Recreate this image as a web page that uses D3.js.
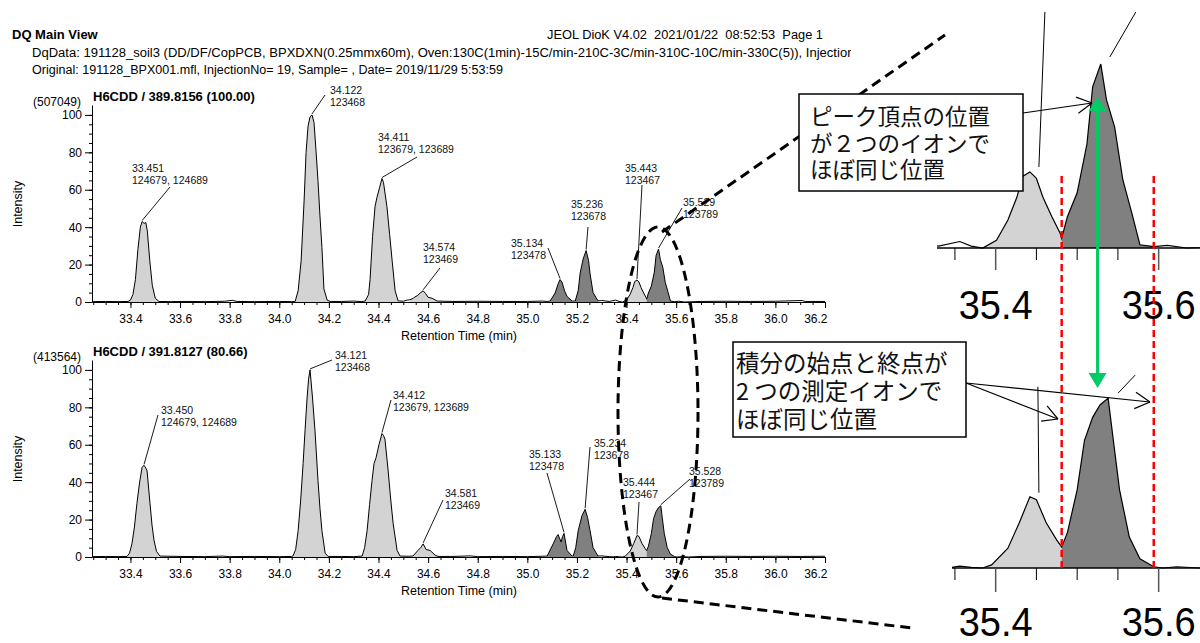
<!DOCTYPE html>
<html>
<head>
<meta charset="utf-8">
<script src="https://cdn.jsdelivr.net/npm/d3@7.9.0/dist/d3.min.js"></script>
<style>
  body { margin: 0; background: #fff; }
  svg { display: block; font-family: "Liberation Sans", Arial, sans-serif; }
  .jp { font-family: "Noto Sans CJK JP", sans-serif; }
</style>
</head>
<body>
<svg id="chart" width="1200" height="643"></svg>
<script>
// ---------------- data ----------------
// chromatogram traces: [retention time (min), relative intensity (%)]
const topTrace = [
  [33.245,0.2],[33.30,0.3],[33.35,0.2],[33.39,0.3],
  [33.40,1],[33.41,4],[33.42,12],[33.43,28],[33.44,40],[33.447,43],[33.455,42],[33.462,42.5],[33.468,38],[33.478,22],[33.488,9],[33.50,2],[33.515,0.3],
  [33.56,0.2],[33.62,0.3],[33.70,0.2],[33.78,0.4],[33.81,0.9],[33.83,0.3],[33.90,0.2],[34.00,0.3],[34.05,0.2],
  [34.064,0.3],[34.076,6],[34.088,22],[34.100,54],[34.108,80],[34.116,94],[34.124,99],[34.132,100],[34.140,96],[34.148,81],[34.156,65],[34.164,46],[34.172,29],[34.180,7],[34.193,1],[34.205,0.3],
  [34.25,0.3],[34.30,0.5],[34.33,0.2],
  [34.346,0.5],[34.36,4],[34.366,12],[34.376,35],[34.386,51],[34.394,56],[34.404,61],[34.414,66],[34.420,64],[34.434,51],[34.445,36],[34.455,22],[34.467,6],[34.479,0.6],
  [34.50,0.4],[34.515,1],
  [34.527,1.2],[34.54,2],[34.547,2.7],[34.558,3.5],[34.568,4.8],[34.580,6],[34.590,4.5],[34.600,2.5],[34.616,2],[34.636,0.5],
  [34.70,0.3],[34.80,0.4],[34.90,0.3],[35.00,0.3],[35.06,0.5],[35.08,0.3],
  [35.092,0.5],[35.112,4.8],[35.125,10],[35.132,12],[35.140,10.5],[35.150,6],[35.160,3],[35.180,0.5],
  [35.193,0.5],[35.205,6],[35.213,15.5],[35.225,23],[35.237,27.5],[35.247,22],[35.253,15],[35.265,5],[35.285,0.6],
  [35.30,0.8],[35.33,0.3],[35.356,1],[35.37,0.3],
  [35.384,0],[35.401,1.2],[35.415,4.3],[35.426,7.8],[35.433,11],[35.442,11.7],[35.450,10.7],[35.458,7.8],[35.469,4.8],[35.479,2.3],[35.481,1.5],
  [35.488,4.8],[35.500,8.5],[35.512,16],[35.519,24.8],[35.529,28.3],[35.536,22.8],[35.546,18.6],[35.556,10.5],[35.567,5.4],[35.577,0.5],[35.594,0.2],
  [35.611,0.4],[35.634,0],[35.70,0.3],[35.80,0.4],[35.90,0.3],[36.00,0.4],[36.108,0.8],[36.12,0.3],[36.20,0.3]
];
const bottomTrace = [
  [33.245,0.2],[33.30,0.3],[33.35,0.2],[33.386,0.3],
  [33.396,2],[33.406,7],[33.416,16],[33.426,28.5],[33.437,40],[33.447,48],[33.455,49],[33.462,47.5],[33.467,46],[33.479,28.5],[33.487,17],[33.495,9],[33.505,3],[33.519,0.5],
  [33.60,0.3],[33.70,0.2],[33.77,0.5],[33.80,0.2],[33.90,0.3],[34.00,0.2],[34.05,0.3],
  [34.055,0.5],[34.066,4],[34.076,14],[34.086,30],[34.096,50],[34.104,68],[34.112,85],[34.118,95],[34.124,100],[34.134,85],[34.144,67.5],[34.156,41],[34.164,26],[34.172,14],[34.185,2],[34.197,0.3],
  [34.25,0.3],[34.30,0.2],
  [34.334,0.5],[34.344,5],[34.354,14],[34.364,28],[34.374,41],[34.382,50],[34.390,53],[34.402,60],[34.414,66],[34.420,65],[34.426,63],[34.439,46],[34.449,31],[34.459,18],[34.475,3.5],[34.487,0.5],
  [34.52,0.4],
  [34.539,0.5],[34.559,3.5],[34.570,5],[34.580,7],[34.592,4],[34.608,3.5],[34.628,1],[34.640,0.3],
  [34.70,0.3],[34.77,0.6],[34.80,0.2],[34.90,0.3],[35.00,0.2],[35.06,0.4],
  [35.080,0.5],[35.104,7],[35.118,11],[35.124,12],[35.136,8],[35.142,11],[35.148,12.6],[35.160,3.5],[35.180,0.5],
  [35.185,0.5],[35.195,5],[35.205,14],[35.220,22],[35.233,25.5],[35.243,21],[35.253,14],[35.265,5],[35.285,0.5],
  [35.30,0.6],[35.33,0.2],[35.346,0.1],[35.356,0.3],[35.37,0.1],
  [35.384,0],[35.395,0.5],[35.415,3.2],[35.429,7.3],[35.442,11.5],[35.450,11],[35.462,7.3],[35.475,4.5],[35.481,3.4],
  [35.488,5.7],[35.500,12.6],[35.509,20.6],[35.519,24.3],[35.528,26.3],[35.538,27.4],[35.544,21],[35.552,12.6],[35.564,5],[35.577,1.5],[35.594,0.2],
  [35.605,0],[35.622,0.2],[35.65,0],[35.70,0.3],[35.80,0.4],[35.90,0.3],[36.00,0.4],[36.10,0.3],[36.20,0.4]
];

// integration windows [start, end, shade]
const topWindows = [
  [33.390,33.515,'light'],[34.064,34.205,'light'],[34.346,34.479,'light'],[34.527,34.636,'light'],
  [35.092,35.180,'dark'],[35.193,35.285,'dark'],[35.384,35.481,'light'],[35.481,35.594,'dark']
];
const bottomWindows = [
  [33.386,33.519,'light'],[34.055,34.197,'light'],[34.334,34.487,'light'],[34.539,34.640,'light'],
  [35.080,35.180,'dark'],[35.185,35.285,'dark'],[35.384,35.481,'light'],[35.481,35.594,'dark']
];

const topRT = ['33.451','34.122','34.411','34.574','35.134','35.236','35.443','35.529'];
const bottomRT = ['33.450','34.121','34.412','34.581','35.133','35.234','35.444','35.528'];
const isomers = ['124679, 124689','123468','123679, 123689','123469','123478','123678','123467','123789'];

const xTickValues = [33.4,33.6,33.8,34.0,34.2,34.4,34.6,34.8,35.0,35.2,35.4,35.6,35.8,36.0,36.2];
const yTickValues = [0,20,40,60,80,100];
const panelMajor = [35.4, 35.6];
const panelMinor = [35.35, 35.45, 35.5, 35.55];

const topTitle = 'H6CDD / 389.8156 (100.00)';
const topBasePeak = '(507049)';
const bottomTitle = 'H6CDD / 391.8127 (80.66)';
const bottomBasePeak = '(413564)';

const headerTitle = 'DQ Main View';
const headerRight = 'JEOL DioK V4.02\u00a0\u00a02021/01/22\u00a0\u00a008:52:53\u00a0\u00a0Page 1';
const headerLine1 = 'DqData: 191128_soil3 (DD/DF/CopPCB, BPXDXN(0.25mmx60m), Oven:130C(1min)-15C/min-210C-3C/min-310C-10C/min-330C(5)), Injection:';
const headerLine2 = 'Original: 191128_BPX001.mfl, InjectionNo= 19, Sample= , Date= 2019/11/29 5:53:59';

const noteApex = ['ピーク頂点の位置', 'が２つのイオンで', 'ほぼ同じ位置'];
const noteIntegration = ['積分の始点と終点が', '2 つの測定イオンで', 'ほぼ同じ位置'];
const apexMarkRT = 35.525;

// ---------------- layout ----------------
const LIGHT = '#d3d3d3', DARK = '#808080';
const topLabelPos = [[132,172],[330,94],[378,141],[423,251],[511,247],[571,208],[625,172],[683,206]];
const topLeaderFrom = [[170,187],[325,95],[417,157],[440,268],[548,248],[588,227],[642,185],[682,208]];
const bottomLabelPos = [[161,414],[335,359],[393,399],[445,497],[529,458],[594,447],[623,486],[689,475]];
const bottomLeaderFrom = [[158,415],[332,360],[391,400],[443,500],[547,473],[590,447],[639,502],[690,479]];

const svg = d3.select('#chart');
svg.append('rect').attr('width', 1200).attr('height', 643).attr('fill', '#fff');

const defs = svg.append('defs');
defs.append('clipPath').attr('id', 'hdrClip').append('rect')
  .attr('x', 0).attr('y', 0).attr('width', 851).attr('height', 90);

// header
const hdr = svg.append('g').attr('clip-path', 'url(#hdrClip)');
hdr.append('text').attr('x', 12).attr('y', 39).attr('font-size', 13).attr('font-weight', 'bold').text(headerTitle);
hdr.append('text').attr('x', 547).attr('y', 39).attr('font-size', 12)
  .attr('textLength', 276).attr('lengthAdjust', 'spacingAndGlyphs').text(headerRight);
hdr.append('text').attr('x', 32).attr('y', 57).attr('font-size', 12.5)
  .attr('textLength', 826).attr('lengthAdjust', 'spacingAndGlyphs').text(headerLine1);
hdr.append('text').attr('x', 32).attr('y', 74).attr('font-size', 12.5)
  .attr('textLength', 471).attr('lengthAdjust', 'spacingAndGlyphs').text(headerLine2);

const x = d3.scaleLinear().domain([33.245, 36.2]).range([92, 825]);

function apexOf(trace, w) {
  const pts = trace.filter(d => d[0] >= w[0] && d[0] <= w[1]);
  return pts.reduce((a, b) => (b[1] > a[1] ? b : a));
}

function drawChart(o) {
  const y = d3.scaleLinear().domain([0, 105.3]).range([o.base, o.base - 197]);
  const g = svg.append('g');

  // peak fills
  o.windows.forEach(w => {
    const pts = o.trace.filter(d => d[0] >= w[0] - 1e-9 && d[0] <= w[1] + 1e-9);
    g.append('path').datum(pts)
      .attr('d', d3.area().x(d => x(d[0])).y0(y(0)).y1(d => y(d[1])))
      .attr('fill', w[2] === 'dark' ? DARK : LIGHT);
  });
  g.append('path').datum(o.trace)
    .attr('d', d3.line().x(d => x(d[0])).y(d => y(d[1])))
    .attr('fill', 'none').attr('stroke', '#000').attr('stroke-width', 1);

  // axes
  const yAx = g.append('g').attr('transform', 'translate(92,0)')
    .call(d3.axisLeft(y).tickValues(yTickValues).tickSize(7).tickPadding(3).tickSizeOuter(0));
  g.append('g').attr('transform', 'translate(92,0)')
    .call(d3.axisLeft(y).tickValues(d3.range(0, 101, 5)).tickSize(3).tickFormat(''))
    .select('.domain').remove();
  const xAx = g.append('g').attr('transform', `translate(0,${o.base})`)
    .call(d3.axisBottom(x).tickValues(xTickValues).tickSize(6).tickPadding(6).tickSizeOuter(0).tickFormat(d3.format('.1f')));
  g.append('g').attr('transform', `translate(0,${o.base})`)
    .call(d3.axisBottom(x).tickValues(d3.range(33.25, 36.21, 0.05)).tickSize(3).tickFormat(''))
    .select('.domain').remove();
  [yAx, xAx].forEach(a => a.selectAll('text').attr('font-size', 12).attr('font-family', 'Liberation Sans, Arial').attr('fill', '#000'));
  xAx.selectAll('.tick:last-of-type text').attr('text-anchor', 'end').attr('dx', 2);
  g.selectAll('.domain, .tick line').attr('stroke', '#000');

  g.append('text').attr('x', 459).attr('y', o.base + 38).attr('text-anchor', 'middle')
    .attr('font-size', 12.5).text('Retention Time (min)');
  g.append('text').attr('transform', `translate(22,${o.base - 98}) rotate(-90)`)
    .attr('text-anchor', 'middle').attr('font-size', 12.5).text('Intensity');
  g.append('text').attr('x', 93).attr('y', o.base - 201).attr('font-size', 13)
    .attr('font-weight', 'bold').text(o.title);
  g.append('text').attr('x', 33).attr('y', o.base - 196).attr('font-size', 12).text(o.basePeak);

  // peak annotations
  o.windows.forEach((w, i) => {
    const a = apexOf(o.trace, w);
    g.append('line')
      .attr('x1', o.leaderFrom[i][0]).attr('y1', o.leaderFrom[i][1])
      .attr('x2', x(a[0])).attr('y2', y(a[1]) - 1)
      .attr('stroke', '#000').attr('stroke-width', 0.9);
    const t = g.append('text').attr('font-size', 10.5).attr('fill', '#111');
    t.append('tspan').attr('x', o.labelPos[i][0]).attr('y', o.labelPos[i][1]).text(o.rt[i]);
    t.append('tspan').attr('x', o.labelPos[i][0]).attr('y', o.labelPos[i][1] + 12).text(isomers[i]);
  });
}

drawChart({ trace: topTrace, windows: topWindows, base: 302, title: topTitle, basePeak: topBasePeak,
  rt: topRT, labelPos: topLabelPos, leaderFrom: topLeaderFrom });
drawChart({ trace: bottomTrace, windows: bottomWindows, base: 557, title: bottomTitle, basePeak: bottomBasePeak,
  rt: bottomRT, labelPos: bottomLabelPos, leaderFrom: bottomLeaderFrom });

// ---------------- magnified panels ----------------
const px = d3.scaleLinear().domain([35.328, 35.65]).range([937, 1199.4]);

function drawPanel(o) {
  const py = d3.scaleLinear().domain([0, 10]).range([o.base, o.base - 10 * o.perUnit]);
  const id = 'clip' + o.base;
  defs.append('clipPath').attr('id', id).append('rect')
    .attr('x', o.x0).attr('y', o.base - 220).attr('width', 1200 - o.x0).attr('height', 222);
  const g = svg.append('g');
  const c = g.append('g').attr('clip-path', `url(#${id})`);
  o.windows.forEach(w => {
    const pts = o.trace.filter(d => d[0] >= w[0] - 1e-9 && d[0] <= w[1] + 1e-9);
    c.append('path').datum(pts)
      .attr('d', d3.area().x(d => px(d[0])).y0(py(0)).y1(d => py(d[1])))
      .attr('fill', w[2] === 'dark' ? DARK : LIGHT);
  });
  c.append('path').datum(o.trace)
    .attr('d', d3.line().x(d => px(d[0])).y(d => py(d[1])))
    .attr('fill', 'none').attr('stroke', '#000').attr('stroke-width', 1.2);

  g.append('line').attr('x1', o.x0).attr('x2', 1200).attr('y1', o.base).attr('y2', o.base)
    .attr('stroke', '#000').attr('stroke-width', 1.5);
  panelMinor.forEach(v => g.append('line').attr('x1', px(v)).attr('x2', px(v))
    .attr('y1', o.base).attr('y2', o.base + 12).attr('stroke', '#000').attr('stroke-width', 1));
  panelMajor.forEach(v => {
    g.append('line').attr('x1', px(v)).attr('x2', px(v))
      .attr('y1', o.base).attr('y2', o.base + o.major).attr('stroke', '#555').attr('stroke-width', 1.5);
    g.append('text').attr('x', px(v)).attr('y', o.base + o.labelDy).attr('text-anchor', 'middle')
      .attr('font-size', 40).attr('textLength', 74).attr('lengthAdjust', 'spacingAndGlyphs')
      .text(d3.format('.1f')(v));
  });
  // magnified leader stubs
  o.windows.slice(-2).forEach((w, i) => {
    const a = apexOf(o.trace, w);
    const ax = px(a[0]), ay = py(a[1]);
    const L = o.leaders[i];
    g.append('line').attr('x1', ax + L[2]).attr('y1', ay + L[3]).attr('x2', ax + L[0]).attr('y2', ay + L[1])
      .attr('stroke', '#000').attr('stroke-width', 1);
  });
  return py;
}

drawPanel({ trace: topTrace, windows: topWindows, base: 248, perUnit: 6.5, x0: 937, major: 22, labelDy: 71,
  leaders: [[9,-5,15,-160],[9,-7,35,-52]] });
drawPanel({ trace: bottomTrace, windows: bottomWindows, base: 568, perUnit: 6.2, x0: 952, major: 24, labelDy: 68,
  leaders: [[9,-4,8,-110],[10,-5,27,-23]] });

// integration boundaries (red) and apex marker (green)
const ov = svg.append('g');
const integ = topWindows[topWindows.length - 1];
[integ[0], integ[1]].forEach(v => ov.append('line')
  .attr('x1', px(v)).attr('x2', px(v)).attr('y1', 176).attr('y2', 568)
  .attr('stroke', '#ff0000').attr('stroke-width', 2.5).attr('stroke-dasharray', '7,4'));
const gx = px(apexMarkRT);
ov.append('line').attr('x1', gx).attr('x2', gx).attr('y1', 108).attr('y2', 376)
  .attr('stroke', '#00cc66').attr('stroke-width', 3);
ov.append('path').attr('d', `M${gx},97 L${gx - 9},111 L${gx + 9},111 Z`).attr('fill', '#00cc66');
ov.append('path').attr('d', `M${gx},388 L${gx - 9},373 L${gx + 9},373 Z`).attr('fill', '#00cc66');

// dashed zoom guides
const dash = svg.append('g').attr('fill', 'none').attr('stroke', '#000')
  .attr('stroke-width', 3).attr('stroke-dasharray', '10,6');
dash.append('ellipse').attr('cx', 658).attr('cy', 412).attr('rx', 40).attr('ry', 185);
dash.append('line').attr('x1', 662).attr('y1', 232).attr('x2', 945).attr('y2', 35);
dash.append('line').attr('x1', 662).attr('y1', 598).attr('x2', 912).attr('y2', 628);

// callouts
function arrow(g, x1, y1, x2, y2) {
  g.append('line').attr('x1', x1).attr('y1', y1).attr('x2', x2).attr('y2', y2);
  const ang = Math.atan2(y2 - y1, x2 - x1);
  [0.5, -0.5].forEach(s => {
    const t = ang + Math.PI + s;
    g.append('line').attr('x1', x2).attr('y1', y2)
      .attr('x2', x2 + 17 * Math.cos(t)).attr('y2', y2 + 17 * Math.sin(t));
  });
}
function callout(o) {
  const g = svg.append('g');
  g.append('rect').attr('x', o.x).attr('y', o.y).attr('width', o.w).attr('height', o.h)
    .attr('fill', '#fff').attr('stroke', '#000').attr('stroke-width', 1.5);
  o.lines.forEach((s, i) => g.append('text').attr('class', 'jp')
    .attr('x', o.tx).attr('y', o.ty + i * o.lh).attr('dominant-baseline', 'central')
    .attr('font-size', o.fs).attr('fill', '#111').text(s));
  const a = g.append('g').attr('stroke', '#000').attr('stroke-width', 1.2);
  o.arrows.forEach(p => arrow(a, p[0], p[1], p[2], p[3]));
}
callout({ x: 799, y: 94, w: 224, h: 97, tx: 810, ty: 115, lh: 26.5, fs: 22.5, lines: noteApex,
  arrows: [[1023, 113, 1092, 103]] });
callout({ x: 733, y: 342, w: 233, h: 95, tx: 736, ty: 362, lh: 28, fs: 23.5, lines: noteIntegration,
  arrows: [[966, 383, 1058, 419], [966, 383, 1150, 402]] });
</script>
</body>
</html>
